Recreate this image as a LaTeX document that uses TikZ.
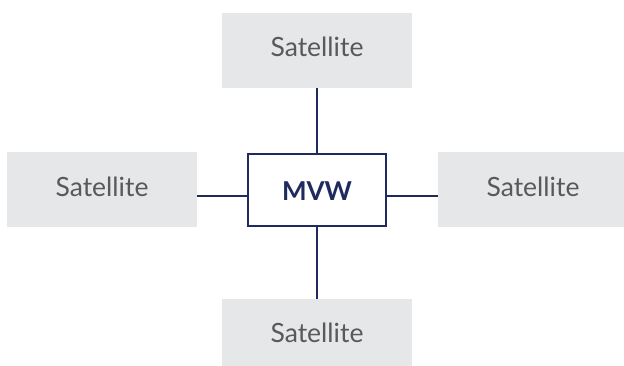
\documentclass[tikz,border=0pt]{standalone}
\usepackage{fontspec}
\setmainfont{Lato}
\definecolor{satfill}{HTML}{E6E7E8}
\definecolor{sattext}{HTML}{58595B}
\definecolor{navy}{HTML}{1F2A5E}
\begin{document}
\begin{tikzpicture}[x=1pt,y=-1pt,
  sat/.style={fill=satfill,draw=none,minimum width=190pt,minimum height=75pt,
    text=sattext,font=\fontsize{26.5}{30}\selectfont,text height=12.4pt,text depth=0pt,inner sep=0pt},
  hub/.style={fill=white,draw=navy,line width=2.2pt,minimum width=138pt,minimum height=72pt,
    text=navy,font=\fontsize{26}{30}\selectfont\bfseries,text height=22pt,text depth=0pt,inner sep=0pt},
  link/.style={draw=navy,line width=2.2pt}]
\useasboundingbox (0,0) rectangle (624,366);
\clip (0,0) rectangle (624,366);
\node[sat] (top) at (317,50.5) {Satellite};
\node[sat] (left) at (102,190) {Satellite};
\node[sat] (right) at (533,190) {Satellite};
\node[sat] (bottom) at (317,336.5) {Satellite};
\node[hub] (mvw) at (317,190) {MVW};
\draw[link] (top.south) -- (mvw.north);
\draw[link] (mvw.south) -- (bottom.north);
\draw[link] ([yshift=-6pt]left.east) -- ([yshift=-6pt]mvw.west);
\draw[link] ([yshift=-6pt]mvw.east) -- ([yshift=-6pt]right.west);
\end{tikzpicture}
\end{document}
